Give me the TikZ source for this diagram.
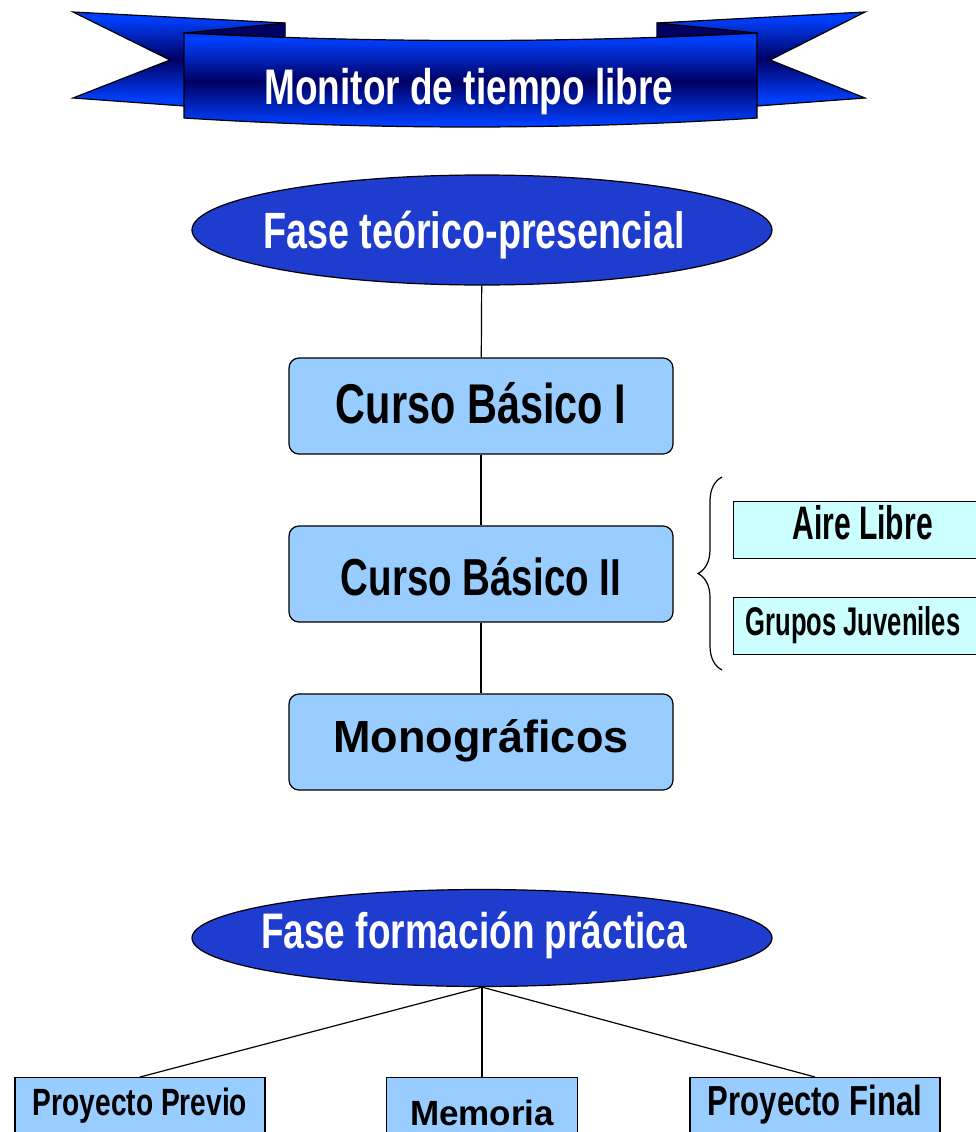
\documentclass[tikz,border=0pt]{standalone}
\usepackage{fontspec}
\setmainfont{Liberation Sans}
\newfontfamily\narrowfont[FakeStretch=0.74]{Liberation Sans}
\newfontfamily\slimfont[FakeStretch=0.64]{Liberation Sans}
\usetikzlibrary{shapes.geometric,decorations.pathreplacing}

\definecolor{fasefill}{RGB}{30,60,205}
\definecolor{boxfill}{RGB}{153,204,255}
\definecolor{subfill}{RGB}{204,255,255}
\definecolor{ribdark}{RGB}{0,0,100}
\definecolor{ribblue}{RGB}{0,64,255}

\pgfdeclareverticalshading{ribbon}{100bp}{color(0bp)=(ribdark); color(28bp)=(ribblue); color(50bp)=(ribdark); color(72bp)=(ribblue); color(100bp)=(ribdark)}

\tikzset{
  ribbonpart/.style={shading=ribbon, draw=black, line width=1.2},
  fase/.style={draw, ellipse, fill=fasefill, text=white, line width=1.2,
    minimum width=580, inner sep=0},
  curso/.style={draw, rectangle, rounded corners=10, fill=boxfill, line width=1.2,
    minimum width=384, minimum height=96, inner sep=0},
  subbox/.style={draw, rectangle, fill=subfill, line width=1.2, anchor=west,
    minimum width=258, minimum height=57, inner xsep=12, inner ysep=0},
  practica/.style={draw, rectangle, fill=boxfill, line width=1.2, anchor=north,
    minimum height=80, inner sep=0},
  link/.style={draw, line width=1.2}
}

\begin{document}
\begin{tikzpicture}[x=1pt,y=-1pt]
    \path[use as bounding box, clip] (0,0) rectangle (976,1132);

    % Banner
    \shade[ribbonpart] (73,12) -- (285,23) -- (285,70) -- (184,106) -- (73,98) -- (170,60) -- cycle;
    \shade[ribbonpart] (865,12) -- (657,23) -- (657,70) -- (757,106) -- (865,98) -- (770,60) -- cycle;
    \filldraw[fill=ribdark, line width=1.2] (285,23) -- (184,33) -- (285,37);
    \filldraw[fill=ribdark, line width=1.2] (657,23) -- (757,33) -- (657,37);
    \shade[ribbonpart] (184,33) .. controls (374,43) and (566,43) .. (757,33) -- (757,118)
        .. controls (566,130) and (374,130) .. (184,118) -- cycle;
    \node[text=white, font=\narrowfont\bfseries\fontsize{50}{50}\selectfont] (titulo) at (469,92) {Monitor de tiempo libre};

    % Fase teorico-presencial
    \node[fase, minimum height=110, font=\narrowfont\bfseries\fontsize{51}{51}\selectfont, text height=36, text depth=0] (fase1) at (482,230) {\makebox[0pt]{Fase teórico-presencial\hspace{16pt}}};
    \node[curso, font=\narrowfont\bfseries\fontsize{56}{56}\selectfont, text height=40, text depth=6] (cb1) at (481,406) {Curso Básico I};
    \node[curso, font=\narrowfont\bfseries\fontsize{52}{52}\selectfont, text height=42, text depth=0] (cb2) at (481,574) {Curso Básico II};
    \node[curso, font=\bfseries\fontsize{45}{45}\selectfont, text height=32, text depth=12] (mono) at (481,742) {Monográficos};

    \draw[link] (fase1) -- (cb1);
    \draw[link] (cb1) -- (cb2);
    \draw[link] (cb2) -- (mono);

    % Especialidades
    \node[subbox, font=\slimfont\bfseries\fontsize{47}{47}\selectfont, text height=34, text depth=16] (aire) at (733,530) {Aire Libre};
    \node[subbox, font=\slimfont\bfseries\fontsize{40}{40}\selectfont, text height=30, text depth=12] (grupos) at (733,626) {\makebox[234pt][l]{Grupos Juveniles}};
    \draw[line width=1.2, decorate, decoration={brace, amplitude=24}] (722,670) -- (722,477);

    % Fase formacion practica
    \node[fase, minimum height=97, font=\narrowfont\bfseries\fontsize{50}{50}\selectfont, text height=40, text depth=20] (fase2) at (482,938) {\makebox[0pt]{Fase formación práctica\hspace{16pt}}};
    \node[practica, minimum width=250, font=\narrowfont\bfseries\fontsize{38}{38}\selectfont, text height=28, text depth=32] (previo) at (140,1077) {Proyecto Previo\hspace{9pt}};
    \node[practica, minimum width=191, font=\bfseries\fontsize{35}{35}\selectfont, text height=25, text depth=10] (memoria) at (482,1077) {Memoria};
    \node[practica, minimum width=250, font=\narrowfont\bfseries\fontsize{42}{42}\selectfont, text height=28, text depth=32] (final) at (815,1077) {Proyecto Final\hspace{14pt}};

    \draw[link] (fase2.south) -- (previo.north);
    \draw[link] (fase2.south) -- (memoria.north);
    \draw[link] (fase2.south) -- (final.north);
\end{tikzpicture}
\end{document}
